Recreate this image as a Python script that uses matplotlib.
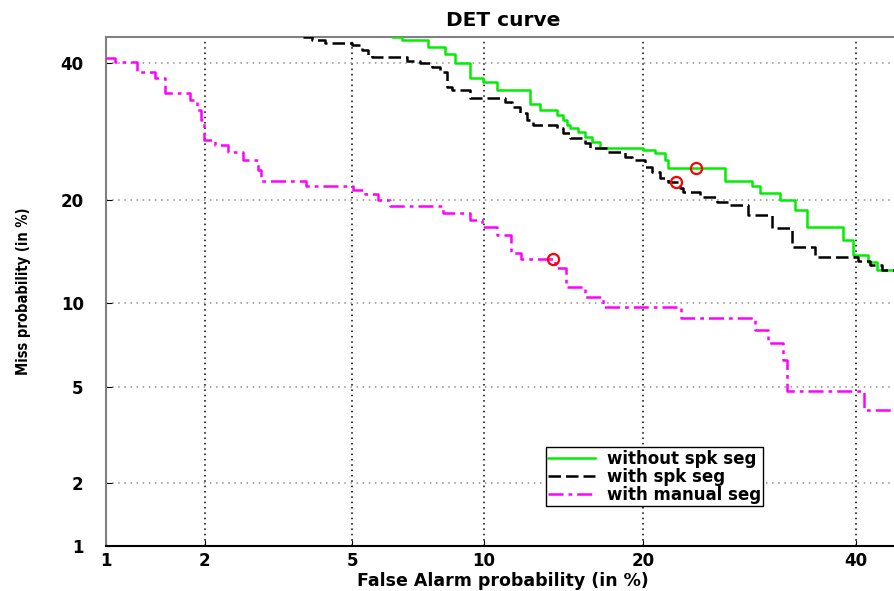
import math
import numpy as np
import matplotlib
matplotlib.use("Agg")
import matplotlib.pyplot as plt

# step curves (start of each flat run), values in %
grn_x = [6.26, 6.58, 7.55, 8.24, 8.66, 9.34, 9.95, 10.65, 12.42, 12.99, 14.01, 14.39, 14.64, 14.83,
         15.35, 15.81, 16.28, 16.83, 19.99, 20.93, 21.73, 21.98, 26.91, 29.43, 30.2, 32.15, 33.65,
         34.87, 38.62, 39.68, 41.29, 42.26, 45.0]
grn_y = [44.36, 43.86, 42.67, 41.5, 40.0, 37.54, 36.89, 35.6, 33.39, 32.45, 31.69, 30.93, 30.17, 29.73,
         29.13, 28.4, 27.68, 26.82, 26.54, 26.12, 25.15, 24.07, 22.37, 21.73, 20.86, 20.01, 18.83,
         16.92, 15.55, 14.07, 13.41, 12.68, 12.68]

blk_x = [3.74, 3.95, 4.26, 4.98, 5.28, 5.46, 5.58, 6.75, 7.24, 7.7, 8.03, 8.32, 8.53, 9.34, 11.06,
         11.43, 11.86, 12.25, 12.59, 14.01, 14.39, 14.83, 15.81, 16.14, 17.39, 18.62, 19.15, 20.14,
         20.69, 21.33, 21.98, 22.97, 23.22, 24.68, 26.19, 27.37, 29.05, 31.37, 33.35, 35.69, 40.21,
         41.5, 42.8, 45.0]
blk_y = [44.36, 43.86, 43.35, 43.01, 42.17, 41.33, 41.0, 40.33, 40.0, 39.34, 38.52, 36.08, 35.6, 34.33,
         33.7, 32.92, 31.99, 30.93, 30.17, 29.73, 28.99, 28.26, 27.54, 26.82, 26.26, 25.57, 25.15,
         24.21, 23.54, 22.76, 22.24, 21.48, 20.98, 20.37, 19.77, 19.41, 18.25, 16.82, 14.85, 13.87,
         13.5, 13.13, 12.68, 12.68]

mag_x = [1.0, 1.07, 1.25, 1.42, 1.53, 1.81, 1.9, 1.95, 1.99, 2.14, 2.33, 2.57, 2.83, 2.89, 3.81, 5.01,
         5.37, 5.77, 6.16, 8.15, 9.34, 9.9, 10.65, 11.37, 11.91, 13.89, 14.57, 15.81, 17.04, 23.06,
         29.72, 30.97, 32.45, 32.85, 40.86, 45.0]
mag_y = [40.83, 40.17, 38.52, 37.54, 35.12, 34.01, 32.45, 30.93, 27.97, 27.25, 26.26, 25.15, 23.81,
         22.37, 21.73, 21.23, 20.74, 20.01, 19.3, 18.48, 17.69, 16.92, 16.07, 14.26, 13.69, 12.86,
         11.22, 10.43, 9.67, 8.89, 8.09, 7.28, 6.33, 4.84, 4.07, 4.07]

# operating points (red circles): green, black, magenta
pt_x = [24.34, 22.64, 13.77]
pt_y = [24.07, 22.24, 13.69]

ticks = [1, 2, 5, 10, 20, 40]
labels = ["without spk seg", "with spk seg", "with manual seg"]


def ppf(p):
    # Acklam's inverse normal approximation
    a = [-3.969683028665376e+01, 2.209460984245205e+02, -2.759285104469687e+02,
         1.383577518672690e+02, -3.066479806614716e+01, 2.506628277459239e+00]
    b = [-5.447609879822406e+01, 1.615858368580409e+02, -1.556989798598866e+02,
         6.680131188771972e+01, -1.328068155288572e+01]
    c = [-7.784894002430293e-03, -3.223964580411365e-01, -2.400758277161838e+00,
         -2.549671010229297e+00, 4.374664141464968e+00, 2.938163982698783e+00]
    d = [7.784695709041462e-03, 3.224671290700398e-01, 2.445134137142996e+00,
         3.754408361280976e+00]
    p = np.asarray(p, dtype=float)
    out = np.empty_like(p)
    lo = p < 0.02425
    hi = p > 1 - 0.02425
    mid = ~(lo | hi)
    q = np.sqrt(-2 * np.log(p[lo]))
    out[lo] = ((((((c[0]*q + c[1])*q + c[2])*q + c[3])*q + c[4])*q + c[5]) /
               ((((d[0]*q + d[1])*q + d[2])*q + d[3])*q + 1))
    q = p[mid] - 0.5
    r = q * q
    out[mid] = ((((((a[0]*r + a[1])*r + a[2])*r + a[3])*r + a[4])*r + a[5]) * q /
                (((((b[0]*r + b[1])*r + b[2])*r + b[3])*r + b[4])*r + 1))
    q = np.sqrt(-2 * np.log(1 - p[hi]))
    out[hi] = -((((((c[0]*q + c[1])*q + c[2])*q + c[3])*q + c[4])*q + c[5]) /
                ((((d[0]*q + d[1])*q + d[2])*q + d[3])*q + 1))
    return out


_erf = np.vectorize(math.erf)


def fwd(v):
    return ppf(np.clip(np.asarray(v, dtype=float) / 100.0, 1e-9, 1 - 1e-9))


def inv(z):
    return 100.0 * 0.5 * (1 + _erf(np.asarray(z, dtype=float) / math.sqrt(2)))


plt.rcParams['font.family'] = ['DejaVu Sans']

fig = plt.figure(figsize=(8.95, 5.91), dpi=100)
ax = fig.add_axes([0.1184, 0.0761, 0.8872, 0.8613])
ax.set_xscale('function', functions=(fwd, inv))
ax.set_yscale('function', functions=(fwd, inv))

ax.plot(grn_x, grn_y, drawstyle='steps-post', color='#00ee00', lw=1.8, label=labels[0], zorder=3)
ax.plot(blk_x, blk_y, drawstyle='steps-post', color='black', lw=1.8, dashes=(5, 2), label=labels[1], zorder=3)
ax.plot(mag_x, mag_y, drawstyle='steps-post', color='#ff00ff', lw=1.8, dashes=(6, 2, 1.5, 2),
        label=labels[2], zorder=3)
ax.plot(pt_x, pt_y, 'o', ms=8, mfc='none', mec='red', mew=1.6, zorder=4)

ax.set_xlim(1, 44.8)
ax.set_ylim(1, 44.4)
ax.set_xticks(ticks, [str(t) for t in ticks])
ax.set_yticks(ticks, [str(t) for t in ticks])
ax.minorticks_off()
ax.tick_params(direction='in', length=4, labelsize=12)
ax.tick_params(axis='x', pad=4)
ax.tick_params(axis='y', pad=16)
for lab in ax.get_xticklabels() + ax.get_yticklabels():
    lab.set_fontweight('bold')

ax.grid(axis='x', color='black', linestyle=(0, (1, 2.5)), lw=1.1)
ax.grid(axis='y', color='#909090', linestyle=(0, (1, 3)), lw=1.1)
ax.set_axisbelow(True)

ax.spines['left'].set_color('#808080')
ax.spines['top'].set_color('#808080')
ax.spines['bottom'].set_color('black')
for s in ['left', 'top', 'bottom']:
    ax.spines[s].set_linewidth(1.5)
ax.spines['right'].set_visible(False)

ax.set_title("DET curve", fontsize=14.5, fontweight='bold', pad=8)
ax.set_xlabel("False Alarm probability (in %)", fontsize=12.5, fontweight='bold')
ax.set_ylabel("Miss probability (in %)", fontsize=10.5, fontweight='bold', fontstretch='condensed')
ax.xaxis.set_label_coords(0.5, -0.052)
ax.yaxis.set_label_coords(-0.095, 0.5)

leg = ax.legend(loc='lower left', bbox_to_anchor=(0.554, 0.0786), borderaxespad=0,
                handlelength=2.8, handletextpad=0.7, labelspacing=0.0,
                borderpad=0.15, fancybox=False, framealpha=1, edgecolor='black',
                prop={'weight': 'bold', 'size': 12})
leg.get_frame().set_linewidth(1.0)

fig.savefig("out.png", dpi=100)
